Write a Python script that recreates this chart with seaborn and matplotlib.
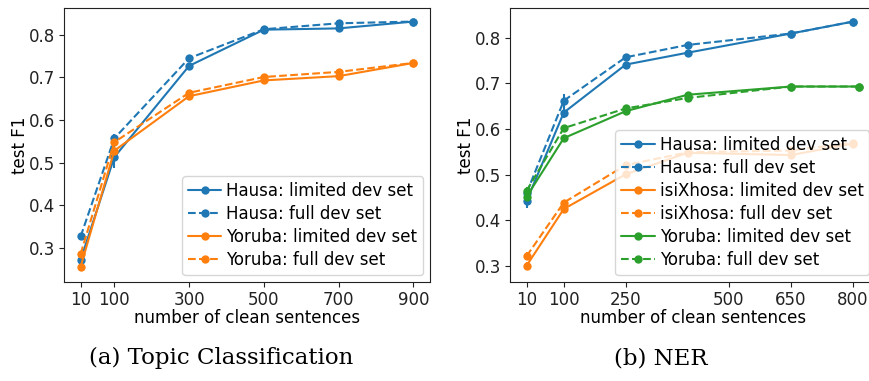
import matplotlib
matplotlib.use("Agg")
import matplotlib.pyplot as plt
import seaborn as sns
import numpy as np

sns.set_style("ticks")
plt.rcParams["font.family"] = ["DejaVu Sans"]
plt.rcParams["font.size"] = 12
plt.rcParams["axes.edgecolor"] = "#222222"
plt.rcParams["xtick.color"] = "#222222"
plt.rcParams["ytick.color"] = "#222222"
plt.rcParams["text.color"] = "black"
plt.rcParams["axes.labelcolor"] = "black"

# ---- (a) Topic classification ----
tc_sizes = [10, 100, 300, 500, 700, 900]
tc_ticks = [10, 100, 300, 500, 700, 900]
tc_hausa_limited = [0.272, 0.513, 0.727, 0.812, 0.815, 0.831]
tc_hausa_full = [0.327, 0.557, 0.745, 0.813, 0.827, 0.831]
tc_yoruba_limited = [0.256, 0.528, 0.656, 0.693, 0.703, 0.734]
tc_yoruba_full = [0.286, 0.548, 0.664, 0.701, 0.713, 0.734]
tc_hausa_limited_err = [0.006, 0.025, 0.004, 0.003, 0.003, 0.002]
tc_hausa_full_err = [0.006, 0.010, 0.004, 0.003, 0.003, 0.002]
tc_yoruba_limited_err = [0.006, 0.008, 0.004, 0.003, 0.003, 0.002]
tc_yoruba_full_err = [0.006, 0.008, 0.004, 0.003, 0.003, 0.002]

# ---- (b) NER ----
ner_sizes = [10, 100, 250, 400, 650, 800]
ner_sizes_yoruba = [10, 100, 250, 400, 650, 816]
ner_ticks = [10, 100, 250, 500, 650, 800]
ner_hausa_limited = [0.443, 0.636, 0.741, 0.767, 0.809, 0.835]
ner_hausa_full = [0.460, 0.662, 0.757, 0.784, 0.809, 0.835]
ner_xhosa_limited = [0.301, 0.425, 0.501, 0.548, 0.543, 0.568]
ner_xhosa_full = [0.322, 0.439, 0.521, 0.549, 0.553, 0.570]
ner_yoruba_limited = [0.452, 0.580, 0.639, 0.675, 0.693, 0.693]
ner_yoruba_full = [0.465, 0.602, 0.645, 0.668, 0.693, 0.693]
ner_hausa_limited_err = [0.015, 0.012, 0.004, 0.003, 0.003, 0.002]
ner_hausa_full_err = [0.010, 0.015, 0.004, 0.003, 0.003, 0.002]
ner_xhosa_limited_err = [0.008, 0.006, 0.004, 0.003, 0.003, 0.002]
ner_xhosa_full_err = [0.008, 0.006, 0.004, 0.003, 0.003, 0.002]
ner_yoruba_limited_err = [0.008, 0.006, 0.004, 0.003, 0.003, 0.002]
ner_yoruba_full_err = [0.008, 0.006, 0.004, 0.003, 0.003, 0.002]

BLUE = "#1f77b4"
ORANGE = "#ff7f0e"
GREEN = "#2ca02c"


def draw(ax, x, y, err, color, ls, label):
    ax.errorbar(x, y, yerr=err, fmt="none", ecolor=color, elinewidth=1.5,
                capsize=0, zorder=2)
    sns.lineplot(x=x, y=y, ax=ax, color=color, linestyle=ls, marker="o",
                 markersize=6, markeredgecolor=color, markeredgewidth=0,
                 linewidth=1.5, label=label, zorder=3)


fig = plt.figure(figsize=(8.7, 3.81), dpi=100)
ax1 = fig.add_axes([64 / 870, 1 - 281.7 / 381, 366 / 870, 273.4 / 381])
ax2 = fig.add_axes([510 / 870, 1 - 281.7 / 381, 366 / 870, 273.4 / 381])

draw(ax1, tc_sizes, tc_hausa_limited, tc_hausa_limited_err, BLUE, "-", "Hausa: limited dev set")
draw(ax1, tc_sizes, tc_hausa_full, tc_hausa_full_err, BLUE, "--", "Hausa: full dev set")
draw(ax1, tc_sizes, tc_yoruba_limited, tc_yoruba_limited_err, ORANGE, "-", "Yoruba: limited dev set")
draw(ax1, tc_sizes, tc_yoruba_full, tc_yoruba_full_err, ORANGE, "--", "Yoruba: full dev set")
ax1.set_xticks(tc_ticks)
ax1.set_xticklabels([str(t) for t in tc_ticks])

draw(ax2, ner_sizes, ner_hausa_limited, ner_hausa_limited_err, BLUE, "-", "Hausa: limited dev set")
draw(ax2, ner_sizes, ner_hausa_full, ner_hausa_full_err, BLUE, "--", "Hausa: full dev set")
draw(ax2, ner_sizes, ner_xhosa_limited, ner_xhosa_limited_err, ORANGE, "-", "isiXhosa: limited dev set")
draw(ax2, ner_sizes, ner_xhosa_full, ner_xhosa_full_err, ORANGE, "--", "isiXhosa: full dev set")
draw(ax2, ner_sizes_yoruba, ner_yoruba_limited, ner_yoruba_limited_err, GREEN, "-", "Yoruba: limited dev set")
draw(ax2, ner_sizes_yoruba, ner_yoruba_full, ner_yoruba_full_err, GREEN, "--", "Yoruba: full dev set")
ax2.set_xticks(ner_ticks)
ax2.set_xticklabels([str(t) for t in ner_ticks])

for ax in (ax1, ax2):
    ax.set_xlabel("number of clean sentences", fontsize=12, labelpad=0)
    ax.set_ylabel("test F1", fontsize=12, labelpad=-0.5)
    ax.set_yticks([0.3, 0.4, 0.5, 0.6, 0.7, 0.8])
    ax.tick_params(labelsize=12, length=3.5, width=0.8, direction="out", pad=3)
    for s in ax.spines.values():
        s.set_linewidth(0.8)
    ax.legend(loc="lower right", frameon=True, fontsize=12, framealpha=0.8,
              edgecolor="0.8", fancybox=True, handlelength=2.0,
              labelspacing=0.3, handletextpad=0.3, borderpad=0.35,
              borderaxespad=0.4)

fig.text(221 / 870, 1 - 358 / 381, "(a) Topic Classification",
         family="DejaVu Serif", fontsize=16.5, ha="center", va="center")
fig.text(661 / 870, 1 - 358 / 381, "(b) NER",
         family="DejaVu Serif", fontsize=16.5, ha="center", va="center")

fig.savefig("out.png", dpi=100)
